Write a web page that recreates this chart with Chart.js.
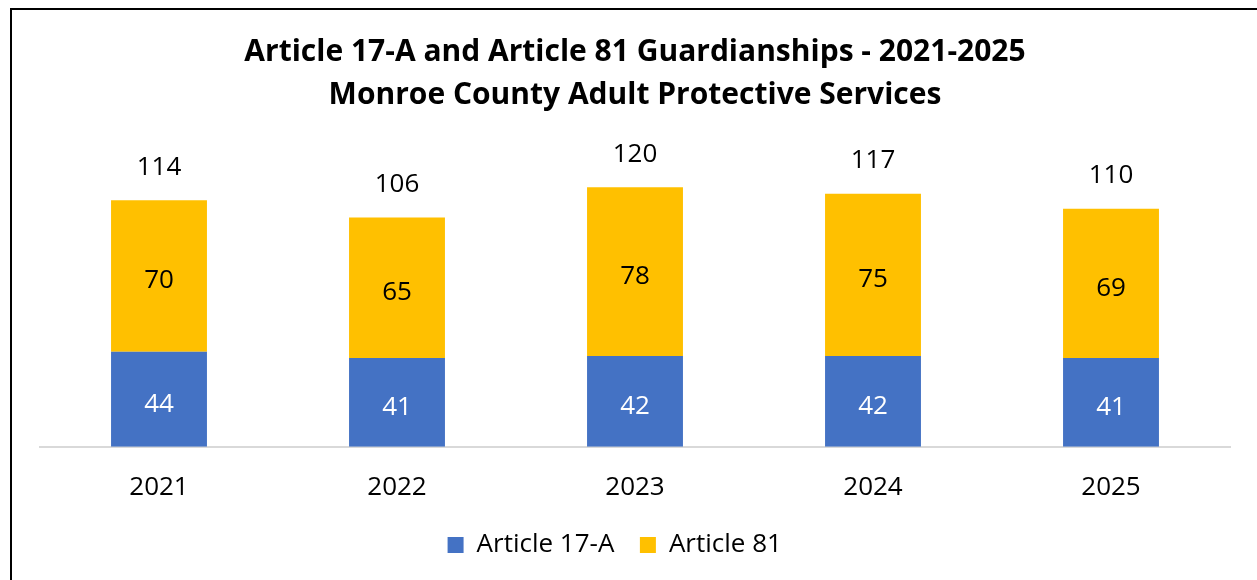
<!DOCTYPE html>
<html>
<head>
<meta charset="utf-8">
<script src="https://cdn.jsdelivr.net/npm/chart.js@4"></script>
<style>
  html, body { margin: 0; padding: 0; background: #fff; overflow: hidden; }
  #wrap { position: absolute; left: 0; top: 0; width: 1257px; height: 580px; }
  #frame { position: absolute; left: 10px; top: 8px; width: 1400px; height: 700px; border: 2px solid #000; box-sizing: border-box; }
</style>
</head>
<body>
<div id="frame"></div>
<div id="wrap"><canvas id="c" width="1257" height="580"></canvas></div>
<script>
// ── Data ────────────────────────────────────────────────
const years = ['2021', '2022', '2023', '2024', '2025'];
const art17a = [44, 41, 42, 42, 41];
const art81 = [70, 65, 78, 75, 69];
const titleLines = ['Article 17-A and Article 81 Guardianships - 2021-2025', 'Monroe County Adult Protective Services'];

const FONT = "'Open Sans', 'Noto Sans', sans-serif";

// ── Labels inside segments + totals above ───────────────
const barLabels = {
  id: 'barLabels',
  afterDatasetsDraw(chart) {
    const { ctx } = chart;
    ctx.save();
    ctx.font = `26px ${FONT}`;
    ctx.textAlign = 'center';
    ctx.textBaseline = 'middle';
    chart.data.datasets.forEach((ds, di) => {
      const meta = chart.getDatasetMeta(di);
      meta.data.forEach((bar, i) => {
        const mid = (bar.y + bar.base) / 2 + 5;
        ctx.fillStyle = di === 0 ? '#ffffff' : '#000000';
        ctx.fillText(ds.data[i], bar.x, mid);
      });
    });
    const top = chart.getDatasetMeta(chart.data.datasets.length - 1);
    ctx.fillStyle = '#000000';
    top.data.forEach((bar, i) => {
      const tot = art17a[i] + art81[i];
      ctx.fillText(tot, bar.x, bar.y - 33);
    });
    ctx.restore();
  }
};

new Chart(document.getElementById('c').getContext('2d'), {
  type: 'bar',
  data: {
    labels: years,
    datasets: [
      { label: 'Article 17-A', data: art17a, backgroundColor: '#4472C4', barPercentage: 0.403, categoryPercentage: 1 },
      { label: 'Article 81', data: art81, backgroundColor: '#FFC000', barPercentage: 0.403, categoryPercentage: 1 }
    ]
  },
  options: {
    responsive: false, animation: false,
    layout: { padding: { left: 40, right: 27, top: 12, bottom: 12 } },
    plugins: {
      title: {
        display: true, text: titleLines, color: '#000',
        font: { family: FONT, size: 30, weight: 'bold', lineHeight: 1.433 },
        padding: { top: 19, bottom: 27 }
      },
      legend: {
        position: 'bottom',
        labels: {
          color: '#000', font: { family: FONT, size: 26 }, boxWidth: 16, boxHeight: 16, padding: 12,
          // trailing spaces: widen the gap between entries, nudge the legend left
          generateLabels: ch => Chart.defaults.plugins.legend.labels.generateLabels(ch)
            .map((l, i, a) => ({ ...l, text: l.text + (i === a.length - 1 ? '      ' : '  ') }))
        }
      },
      tooltip: { enabled: false }
    },
    scales: {
      x: {
        stacked: true,
        grid: { display: false },
        border: { color: '#d9d9d9', width: 2 },
        ticks: { color: '#000', font: { family: FONT, size: 26 }, padding: 17 }
      },
      y: { stacked: true, display: false, min: 0, max: 140 }
    }
  },
  plugins: [barLabels]
});
</script>
</body>
</html>
